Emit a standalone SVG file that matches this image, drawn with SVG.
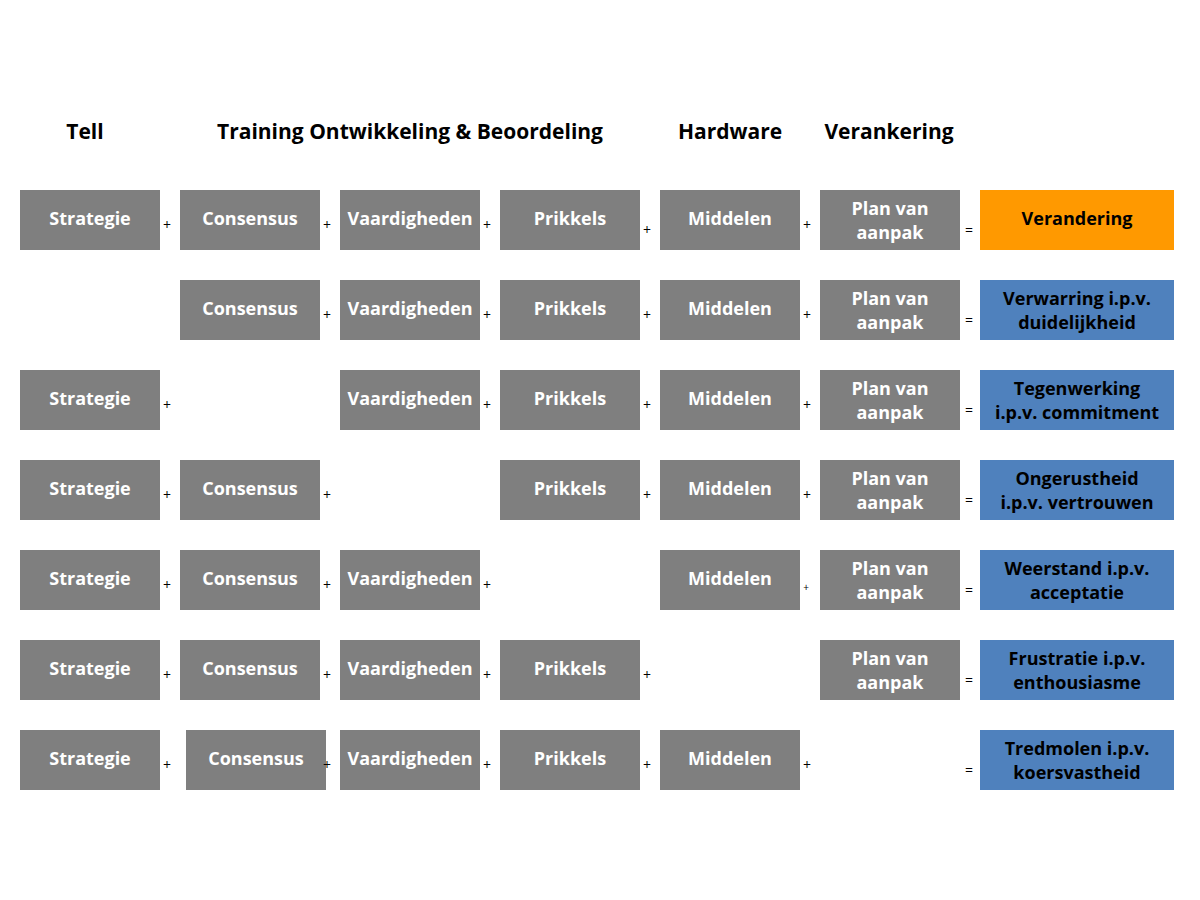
<svg xmlns="http://www.w3.org/2000/svg" width="1200" height="900" viewBox="0 0 1200 900">
<style>
.g{fill:#7f7f7f}.o{fill:#ff9900}.b{fill:#4f81bd}
text{font-family:"Open Sans","DejaVu Sans",sans-serif;font-weight:bold;text-anchor:middle}
.w{fill:#fff;font-size:18px}.k{fill:#000;font-size:18px}
.h{fill:#000;font-size:21px}
.p{fill:#000;font-size:14px;font-weight:normal}
</style>
<rect width="1200" height="900" fill="#fff"/>
<g id="headers">
<text class="h" x="85" y="139">Tell</text>
<text class="h" x="410" y="139">Training Ontwikkeling &amp; Beoordeling</text>
<text class="h" x="730" y="139">Hardware</text>
<text class="h" x="889" y="139">Verankering</text>
</g>
<defs>
<g id="S"><rect class="g" width="140" height="60"/><text class="w" x="70" y="35">Strategie</text></g>
<g id="C"><rect class="g" width="140" height="60"/><text class="w" x="70" y="35">Consensus</text></g>
<g id="V"><rect class="g" width="140" height="60"/><text class="w" x="70" y="35">Vaardigheden</text></g>
<g id="P"><rect class="g" width="140" height="60"/><text class="w" x="70" y="35">Prikkels</text></g>
<g id="M"><rect class="g" width="140" height="60"/><text class="w" x="70" y="35">Middelen</text></g>
<g id="A"><rect class="g" width="140" height="60"/><text class="w" x="70" y="25">Plan van</text><text class="w" x="70" y="49">aanpak</text></g>
</defs>
<g id="row1">
<use href="#S" x="20" y="190"/><use href="#C" x="180" y="190"/><use href="#V" x="340" y="190"/><use href="#P" x="500" y="190"/><use href="#M" x="660" y="190"/><use href="#A" x="820" y="190"/>
<rect class="o" x="980" y="190" width="194" height="60"/><text class="k" x="1077" y="225">Verandering</text>
</g>
<g id="row2">
<use href="#C" x="180" y="280"/><use href="#V" x="340" y="280"/><use href="#P" x="500" y="280"/><use href="#M" x="660" y="280"/><use href="#A" x="820" y="280"/>
<rect class="b" x="980" y="280" width="194" height="60"/><text class="k" x="1077" y="305">Verwarring i.p.v.</text><text class="k" x="1077" y="329">duidelijkheid</text>
</g>
<g id="row3">
<use href="#S" x="20" y="370"/><use href="#V" x="340" y="370"/><use href="#P" x="500" y="370"/><use href="#M" x="660" y="370"/><use href="#A" x="820" y="370"/>
<rect class="b" x="980" y="370" width="194" height="60"/><text class="k" x="1077" y="395">Tegenwerking</text><text class="k" x="1077" y="419">i.p.v. commitment</text>
</g>
<g id="row4">
<use href="#S" x="20" y="460"/><use href="#C" x="180" y="460"/><use href="#P" x="500" y="460"/><use href="#M" x="660" y="460"/><use href="#A" x="820" y="460"/>
<rect class="b" x="980" y="460" width="194" height="60"/><text class="k" x="1077" y="485">Ongerustheid</text><text class="k" x="1077" y="509">i.p.v. vertrouwen</text>
</g>
<g id="row5">
<use href="#S" x="20" y="550"/><use href="#C" x="180" y="550"/><use href="#V" x="340" y="550"/><use href="#M" x="660" y="550"/><use href="#A" x="820" y="550"/>
<rect class="b" x="980" y="550" width="194" height="60"/><text class="k" x="1077" y="575">Weerstand i.p.v.</text><text class="k" x="1077" y="599">acceptatie</text>
</g>
<g id="row6">
<use href="#S" x="20" y="640"/><use href="#C" x="180" y="640"/><use href="#V" x="340" y="640"/><use href="#P" x="500" y="640"/><use href="#A" x="820" y="640"/>
<rect class="b" x="980" y="640" width="194" height="60"/><text class="k" x="1077" y="665">Frustratie i.p.v.</text><text class="k" x="1077" y="689">enthousiasme</text>
</g>
<g id="row7">
<use href="#S" x="20" y="730"/><use href="#C" x="186" y="730"/><use href="#V" x="340" y="730"/><use href="#P" x="500" y="730"/><use href="#M" x="660" y="730"/>
<rect class="b" x="980" y="730" width="194" height="60"/><text class="k" x="1077" y="755">Tredmolen i.p.v.</text><text class="k" x="1077" y="779">koersvastheid</text>
</g>
<g id="operators" class="p">
<text class="p" x="167" y="230">+</text><text class="p" x="327" y="230">+</text><text class="p" x="487" y="230">+</text><text class="p" x="647" y="235">+</text><text class="p" x="807" y="230">+</text><text class="p" x="969" y="235">=</text>
<text class="p" x="327" y="320">+</text><text class="p" x="487" y="320">+</text><text class="p" x="647" y="320">+</text><text class="p" x="807" y="320">+</text><text class="p" x="969" y="325">=</text>
<text class="p" x="167" y="410">+</text><text class="p" x="487" y="410">+</text><text class="p" x="647" y="410">+</text><text class="p" x="807" y="410">+</text><text class="p" x="969" y="415">=</text>
<text class="p" x="167" y="500">+</text><text class="p" x="327" y="500">+</text><text class="p" x="647" y="500">+</text><text class="p" x="807" y="500">+</text><text class="p" x="969" y="505">=</text>
<text class="p" x="167" y="590">+</text><text class="p" x="327" y="590">+</text><text class="p" x="487" y="590">+</text><text class="p" x="806" y="591" style="font-size:10px">+</text><text class="p" x="969" y="595">=</text>
<text class="p" x="167" y="680">+</text><text class="p" x="327" y="680">+</text><text class="p" x="487" y="680">+</text><text class="p" x="647" y="680">+</text><text class="p" x="969" y="685">=</text>
<text class="p" x="167" y="770">+</text><text class="p" x="327" y="770">+</text><text class="p" x="487" y="770">+</text><text class="p" x="647" y="770">+</text><text class="p" x="807" y="770">+</text><text class="p" x="969" y="775">=</text>
</g>
</svg>
